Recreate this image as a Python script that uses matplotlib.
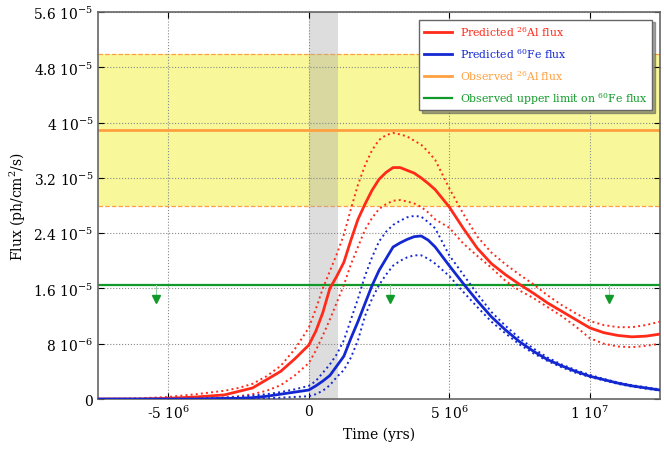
import numpy as np
import matplotlib
matplotlib.use("Agg")
import matplotlib.pyplot as plt

# time grid (units of 1e6 yr) and fluxes (units of 1e-5 ph/cm2/s)
t_myr = [-7.5, -6, -5, -4, -3, -2.5, -2, -1.5, -1, -0.5, 0, 0.25, 0.5, 0.75, 1.0,
         1.25, 1.5, 1.75, 2.0, 2.25, 2.5, 2.75, 3.0, 3.25, 3.5, 3.75, 4.0, 4.25, 4.5,
         5.0, 5.5, 6.0, 6.5, 7.0, 7.5, 8.0, 8.5, 9.0, 9.5, 10.0, 10.5, 11.0, 11.5, 12.0, 12.5]

al_mid = [0.0, 0.0, 0.01, 0.03, 0.06, 0.11, 0.16, 0.28, 0.40, 0.58, 0.78, 0.98, 1.25, 1.6, 1.78,
          1.98, 2.3, 2.6, 2.82, 3.02, 3.18, 3.28, 3.35, 3.35, 3.31, 3.27, 3.2, 3.12, 3.03,
          2.78, 2.47, 2.18, 1.96, 1.80, 1.66, 1.53, 1.39, 1.27, 1.15, 1.03, 0.96, 0.92, 0.90, 0.91, 0.94]
al_hi = [0.0, 0.01, 0.03, 0.07, 0.12, 0.16, 0.22, 0.33, 0.48, 0.72, 1.03, 1.3, 1.6, 1.85, 2.1,
         2.38, 2.75, 3.1, 3.38, 3.6, 3.75, 3.82, 3.85, 3.83, 3.8, 3.74, 3.68, 3.58, 3.46,
         3.05, 2.68, 2.35, 2.12, 1.95, 1.80, 1.66, 1.50, 1.36, 1.24, 1.13, 1.07, 1.04, 1.04, 1.07, 1.12]
al_lo = [0.0, 0.0, 0.0, 0.01, 0.02, 0.04, 0.07, 0.12, 0.2, 0.34, 0.52, 0.7, 0.92, 1.15, 1.4,
         1.65, 1.95, 2.2, 2.45, 2.62, 2.75, 2.82, 2.87, 2.88, 2.86, 2.83, 2.78, 2.7, 2.6,
         2.48, 2.25, 2.07, 1.9, 1.71, 1.57, 1.46, 1.33, 1.2, 1.05, 0.88, 0.8, 0.76, 0.75, 0.77, 0.8]

fe_mid = [0.0, 0.0, 0.0, 0.0, 0.01, 0.01, 0.02, 0.04, 0.07, 0.1, 0.13, 0.19, 0.26, 0.34, 0.48,
          0.62, 0.88, 1.12, 1.38, 1.64, 1.86, 2.03, 2.2, 2.26, 2.31, 2.35, 2.36, 2.3, 2.2,
          1.93, 1.67, 1.42, 1.19, 1.0, 0.83, 0.69, 0.57, 0.48, 0.4, 0.33, 0.28, 0.23, 0.19, 0.16, 0.13]
fe_hi = [0.0, 0.0, 0.0, 0.01, 0.02, 0.03, 0.05, 0.07, 0.1, 0.14, 0.19, 0.26, 0.38, 0.5, 0.65,
         0.85, 1.15, 1.45, 1.78, 2.05, 2.28, 2.42, 2.52, 2.58, 2.63, 2.65, 2.64, 2.56, 2.47,
         2.08, 1.8, 1.52, 1.26, 1.06, 0.88, 0.73, 0.6, 0.5, 0.42, 0.35, 0.29, 0.24, 0.2, 0.17, 0.14]
fe_lo = [0.0, 0.0, 0.0, 0.0, 0.0, 0.0, 0.01, 0.01, 0.02, 0.03, 0.04, 0.07, 0.12, 0.2, 0.32,
         0.42, 0.6, 0.85, 1.2, 1.45, 1.65, 1.8, 1.93, 2.0, 2.05, 2.08, 2.08, 2.03, 1.96,
         1.78, 1.55, 1.33, 1.12, 0.95, 0.79, 0.66, 0.55, 0.46, 0.38, 0.32, 0.27, 0.22, 0.18, 0.15, 0.12]

obs_al = 3.9
obs_al_lo, obs_al_hi = 2.8, 5.0
obs_fe_limit = 1.65
arrow_t = [-5.45, 2.9, 10.7]
arrow_tip = 1.45
shade_t = [0.0, 1.05]

xticks = [-5e6, 0, 5e6, 1e7]
xtick_labels = ['-5 10$^{6}$', '0', '5 10$^{6}$', '1 10$^{7}$']
yticks = [0, 0.8, 1.6, 2.4, 3.2, 4.0, 4.8, 5.6]
ytick_labels = ['0', '8 10$^{-6}$', '1.6 10$^{-5}$', '2.4 10$^{-5}$', '3.2 10$^{-5}$',
                '4 10$^{-5}$', '4.8 10$^{-5}$', '5.6 10$^{-5}$']

plt.rcParams['font.family'] = ['DejaVu Serif']
plt.rcParams['mathtext.fontset'] = 'dejavuserif'

RED = '#ff2a1a'
BLUE = '#1428d2'
ORANGE = '#ffa040'
GREEN = '#119a2a'

t = np.array(t_myr) * 1e6
s = 1e-5

fig = plt.figure(figsize=(6.64, 4.52), dpi=100)
ax = fig.add_axes([0.1476, 0.115, 0.8464, 0.856])

ax.axhspan(obs_al_lo * s, obs_al_hi * s, color='#f8f89a', zorder=0, lw=0)
ax.axhline(obs_al_lo * s, color=ORANGE, ls='--', lw=0.9, zorder=1)
ax.axhline(obs_al_hi * s, color=ORANGE, ls='--', lw=0.9, zorder=1)
ax.axvspan(shade_t[0] * 1e6, shade_t[1] * 1e6, color='#aaaaaa', alpha=0.4, lw=0, zorder=1)

ax.plot(t, np.array(al_hi) * s, color=RED, ls=':', lw=1.4, zorder=3)
ax.plot(t, np.array(al_lo) * s, color=RED, ls=':', lw=1.4, zorder=3)
ax.plot(t, np.array(fe_hi) * s, color=BLUE, ls=':', lw=1.4, zorder=3)
ax.plot(t, np.array(fe_lo) * s, color=BLUE, ls=':', lw=1.4, zorder=3)
ax.plot(t, np.array(al_mid) * s, color=RED, lw=2, zorder=4, label='Predicted $^{26}$Al flux')
ax.plot(t, np.array(fe_mid) * s, color=BLUE, lw=2, zorder=4, label='Predicted $^{60}$Fe flux')
ax.axhline(obs_al * s, color=ORANGE, lw=2, zorder=2, label='Observed $^{26}$Al flux')
ax.axhline(obs_fe_limit * s, color=GREEN, lw=1.6, zorder=2,
           label='Observed upper limit on $^{60}$Fe flux')

for at in arrow_t:
    ax.plot([at * 1e6, at * 1e6], [obs_fe_limit * s, arrow_tip * s], color='#9ed0a6', lw=0.8, zorder=2)
    ax.plot(at * 1e6, arrow_tip * s, marker='v', color=GREEN, ms=5.5, zorder=3)

ax.set_xlim(-7.5e6, 1.25e7)
ax.set_ylim(0, 5.6e-5)
ax.set_xticks(xticks)
ax.set_xticklabels(xtick_labels)
ax.set_yticks([v * s for v in yticks])
ax.set_yticklabels(ytick_labels)
ax.tick_params(direction='in', top=True, right=True, labelsize=10, length=4)
ax.grid(True, color='#888888', ls=':', lw=0.8, zorder=1)
for sp in ax.spines.values():
    sp.set_color('#666666')
    sp.set_linewidth(1.2)

ax.set_xlabel('Time (yrs)', fontsize=10)
ax.set_ylabel('Flux (ph/cm$^{2}$/s)', fontsize=10)

leg = ax.legend(loc='upper right', fontsize=7.8, fancybox=False, shadow=True,
                edgecolor='#666666', framealpha=1, borderaxespad=0.7, handlelength=2.6,
                labelspacing=0.75)
for txt, col in zip(leg.get_texts(), [RED, BLUE, ORANGE, GREEN]):
    txt.set_color(col)

fig.savefig('out.png', dpi=100)
